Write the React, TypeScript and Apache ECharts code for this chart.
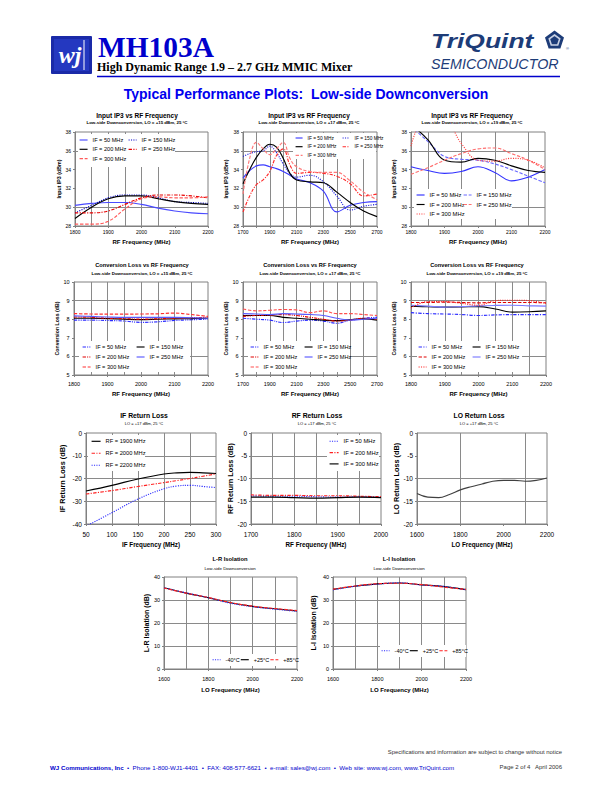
import React, { useEffect, useRef } from "react";
import * as echarts from "echarts";

const FONT = '"Liberation Sans", Arial, Helvetica, sans-serif';
const SERIF = '"Liberation Serif", "Times New Roman", serif';

// ---------------- DATA ----------------
// Row 1 : Input IP3 vs RF Frequency
const ipAFreq = [1800, 1850, 1900, 1950, 2000, 2050, 2100, 2150, 2200];
const ipA50 = [30.2, 30.4, 30.5, 30.5, 30.3, 29.9, 29.6, 29.4, 29.3];
const ipA150 = [29.4, 30.2, 31.0, 31.3, 31.3, 31.0, 30.6, 30.5, 30.4];
const ipA200 = [28.8, 30.0, 30.9, 31.2, 31.2, 30.9, 30.6, 30.4, 30.3];
const ipA250 = [29.4, 29.4, 29.6, 30.3, 31.0, 31.3, 31.3, 31.2, 31.0];
const ipA300 = [28.2, 28.2, 28.5, 29.8, 30.9, 31.1, 31.0, 31.0, 31.1];

const ipBFreq = [1700, 1750, 1800, 1850, 1900, 1950, 2000, 2050, 2100, 2200, 2300, 2400, 2500, 2600, 2700];
const ipB50 = [33.1, 33.9, 34.4, 34.5, 34.3, 34.1, 33.8, 33.4, 33.0, 32.6, 31.7, 29.5, 30.2, 30.5, 30.6];
const ipB150 = [35.4, 35.7, 35.9, 36.0, 36.5, 35.8, 34.6, 33.6, 33.2, 33.4, 32.7, 31.2, 29.7, 30.1, 30.3];
const ipB200 = [32.5, 34.0, 35.3, 36.2, 36.7, 36.4, 35.2, 33.6, 32.9, 32.7, 32.6, 31.6, 30.5, 29.6, 29.0];
const ipB250 = [29.5, 31.2, 32.4, 32.9, 33.8, 35.5, 36.2, 34.5, 33.6, 33.7, 33.6, 33.3, 32.5, 31.2, 31.4];
const ipB300 = [31.4, 35.2, 36.9, 36.2, 35.6, 36.2, 36.9, 35.2, 34.3, 33.8, 33.7, 33.7, 32.8, 31.6, 30.8];

const ipCFreq = [1800, 1850, 1900, 1950, 2000, 2050, 2100, 2150, 2200];
const ipC50 = [34.3, 33.9, 33.6, 33.8, 34.3, 33.7, 32.8, 33.2, 34.0];
const ipC150 = [38.6, 37.0, 35.4, 35.1, 35.0, 34.6, 34.0, 33.3, 32.6];
const ipC200 = [38.8, 37.2, 35.0, 34.8, 35.2, 35.0, 34.4, 33.9, 33.7];
const ipC250 = [33.5, 34.2, 35.0, 35.7, 36.2, 36.3, 35.7, 35.0, 34.0];
const ipC300 = [36.5, 39.8, 39.5, 36.8, 35.0, 34.9, 35.2, 35.0, 34.2];

// Row 2 : Conversion Loss vs RF Frequency
const clDFreq = [1800, 1850, 1900, 1950, 2000, 2050, 2100, 2150, 2200];
const clD50 = [7.95, 7.95, 7.93, 7.9, 7.83, 7.86, 7.93, 7.97, 8.0];
const clD150 = [8.05, 8.05, 8.03, 8.0, 7.98, 8.0, 8.02, 8.03, 8.05];
const clD200 = [8.12, 8.1, 8.05, 8.03, 8.0, 8.02, 8.05, 8.08, 8.1];
const clD250 = [8.18, 8.15, 8.12, 8.1, 8.1, 8.1, 8.1, 8.08, 8.05];
const clD300 = [8.3, 8.28, 8.27, 8.27, 8.28, 8.29, 8.33, 8.25, 8.15];

const clEFreq = [1700, 1800, 1900, 2000, 2100, 2200, 2300, 2400, 2500, 2600, 2700];
const clE50 = [8.05, 8.0, 7.95, 7.82, 7.9, 7.95, 7.9, 7.78, 7.95, 8.05, 8.1];
const clE150 = [8.2, 8.2, 8.2, 8.1, 8.05, 8.0, 7.95, 7.92, 7.98, 8.02, 7.95];
const clE200 = [8.15, 8.2, 8.22, 8.25, 8.2, 8.1, 8.0, 7.9, 7.95, 8.05, 8.0];
const clE250 = [8.3, 8.28, 8.25, 8.3, 8.28, 8.25, 8.2, 8.05, 7.95, 8.0, 8.05];
const clE300 = [8.55, 8.45, 8.48, 8.52, 8.5, 8.35, 8.45, 8.3, 8.3, 8.25, 8.2];

const clFFreq = [1800, 1850, 1900, 1950, 2000, 2050, 2100, 2150, 2200];
const clF50 = [8.35, 8.3, 8.28, 8.25, 8.2, 8.23, 8.25, 8.25, 8.25];
const clF150 = [8.7, 8.67, 8.65, 8.66, 8.68, 8.55, 8.38, 8.4, 8.45];
const clF200 = [8.9, 8.9, 8.92, 8.9, 8.88, 8.9, 8.9, 8.9, 8.88];
const clF250 = [8.75, 8.7, 8.65, 8.68, 8.72, 8.74, 8.75, 8.72, 8.7];
const clF300 = [8.6, 8.95, 8.95, 8.85, 8.75, 9.0, 9.02, 9.0, 8.85];

// Row 3 : Return losses
const ifRlFreq = [50, 100, 150, 200, 225, 250, 275, 300];
const ifRl1900 = [-25.5, -23.0, -20.2, -18.0, -17.5, -17.3, -17.5, -17.8];
const ifRl2000 = [-26.8, -25.3, -23.5, -21.8, -20.9, -20.0, -19.0, -18.0];
const ifRl2200 = [-41.0, -35.0, -29.0, -24.5, -23.3, -23.0, -23.5, -24.0];

const rfRlFreq = [1700, 1750, 1800, 1850, 1900, 1950, 2000];
const rfRl50 = [-13.8, -13.9, -13.9, -14.0, -14.1, -14.0, -14.1];
const rfRl200 = [-13.6, -13.7, -13.7, -13.8, -13.8, -13.9, -14.0];
const rfRl300 = [-14.1, -14.1, -14.2, -14.3, -14.2, -14.1, -14.2];

const loRlFreq = [1600, 1650, 1700, 1750, 1800, 1850, 1900, 1950, 2000, 2050, 2100, 2150, 2200];
const loRl = [-13.3, -14.1, -14.2, -13.5, -12.5, -11.8, -11.2, -10.6, -10.4, -10.4, -10.6, -10.4, -9.9];

// Row 4 : Isolation
const isoFreq = [1600, 1700, 1800, 1900, 2000, 2100, 2200];
const lrM40 = [35.3, 33.1, 31.0, 28.6, 27.1, 26.0, 25.1];
const lrP25 = [35.3, 33.0, 31.0, 28.8, 27.2, 26.2, 25.2];
const lrP85 = [35.2, 33.0, 31.1, 28.9, 27.3, 26.3, 25.4];
const liM40 = [34.4, 36.0, 36.9, 37.5, 36.5, 35.9, 34.4];
const liP25 = [34.6, 36.0, 37.0, 37.4, 36.6, 35.8, 34.5];
const liP85 = [34.7, 36.1, 37.1, 37.3, 36.7, 35.6, 34.6];

// ---------------- STYLES ----------------
const SOLID = "solid";
const DOT = [1.1, 1.3];
const DASH = [3.4, 1.7];
const DASHDOT = [3.4, 1.4, 1.1, 1.4];
const DASHDOTDOT = [3.4, 1.1, 1.1, 1.1, 1.1, 1.1];
const LW = 1.15;

type SeriesSpec = { label: string; values: number[]; color: string; dash: any };
type LegendCol = { left: number; top: number; labels: string[]; orient?: string };
type ChartSpec = {
  key: string; title: string; sub: string; subBold: boolean;
  cx: number; ty: number; sy: number; tSize: number; sSize: number;
  grid: number[];
  xMin: number; xMax: number; xInt: number; xStep: number; xName: string; xNameGap: number; xNameSize: number; xLabSize: number; xLabMargin: number;
  yMin: number; yMax: number; yInt: number; yName: string; yNameGap: number; yNameSize: number; yLabSize: number; yLabMargin: number;
  xs: number[]; series: SeriesSpec[]; hGrid: number[]; vGrid: number[];
  legends: LegendCol[]; lf: number; iw: number; ih: number; ig: number; box?: number[];
};

const rng = (a: number, b: number, s: number) => { const r: number[] = []; for (let v = a; v <= b; v += s) r.push(v); return r; };

const IP_SUB15 = "Low-side Downconversion, LO = +15 dBm, 25 °C";
const IP_SUB17 = "Low-side Downconversion, LO = +17 dBm, 25 °C";
const IP_SUB19 = "Low-side Downconversion, LO = +19 dBm, 25 °C";

const row1 = { ty: 115, sy: 122.5, tSize: 6.5, sSize: 4.4, subBold: true, xName: "RF Frequency (MHz)", xNameGap: 12.5, xNameSize: 6, xLabSize: 5, xLabMargin: 3,
  yMin: 28, yMax: 38, yInt: 2, yName: "Input IP3 (dBm)", yNameSize: 5.3, yLabSize: 5, yLabMargin: 4, hGrid: [30, 36] };
const row2 = { ty: 265.3, sy: 273.7, tSize: 5.7, sSize: 4.4, subBold: true, xName: "RF Frequency (MHz)", xNameGap: 16, xNameSize: 6, xLabSize: 5.5, xLabMargin: 6,
  yMin: 5, yMax: 10, yInt: 1, yName: "Conversion Loss (dB)", yNameSize: 5.2, yLabSize: 5.5, yLabMargin: 4.5, hGrid: [6, 9], lf: 5.6, iw: 8, ih: 7, ig: 3 };

const charts: ChartSpec[] = [
  { key: "A", title: "Input IP3 vs RF Frequency", sub: IP_SUB15, cx: 137, ...row1, grid: [75, 132, 133, 94],
    xMin: 1800, xMax: 2200, xInt: 100, xStep: 100, yNameGap: 12, xs: ipAFreq,
    series: [
      { label: "IF = 50 MHz", values: ipA50, color: "#4a4aff", dash: SOLID },
      { label: "IF = 150 MHz", values: ipA150, color: "#0000c8", dash: DOT },
      { label: "IF = 200 MHz", values: ipA200, color: "#000000", dash: SOLID },
      { label: "IF = 250 MHz", values: ipA250, color: "#e80000", dash: DASHDOT },
      { label: "IF = 300 MHz", values: ipA300, color: "#ff5a5a", dash: DASH },
    ],
    vGrid: [1850, 1900, 1950, 2000, 2050],
    legends: [{ left: 79, top: 136.5, labels: ["IF = 50 MHz", "IF = 200 MHz", "IF = 300 MHz"] }, { left: 128, top: 136.5, labels: ["IF = 150 MHz", "IF = 250 MHz"] }],
    lf: 5.6, iw: 8, ih: 7, ig: 2.3, box: [78, 134, 97, 33] },
  { key: "B", title: "Input IP3 vs RF Frequency", sub: IP_SUB17, cx: 309, ...row1, grid: [243, 132, 134, 94],
    xMin: 1700, xMax: 2700, xInt: 100, xStep: 200, yNameGap: 15, xs: ipBFreq,
    series: [
      { label: "IF = 50 MHz", values: ipB50, color: "#3c3cff", dash: SOLID },
      { label: "IF = 150 MHz", values: ipB150, color: "#2020e0", dash: DOT },
      { label: "IF = 200 MHz", values: ipB200, color: "#000000", dash: SOLID },
      { label: "IF = 250 MHz", values: ipB250, color: "#ff2a2a", dash: DASHDOT },
      { label: "IF = 300 MHz", values: ipB300, color: "#ff7a7a", dash: DASH },
    ],
    vGrid: rng(1800, 2600, 100),
    legends: [{ left: 295, top: 135, labels: ["IF = 50 MHz", "IF = 200 MHz", "IF = 300 MHz"] }, { left: 342, top: 135, labels: ["IF = 150 MHz", "IF = 250 MHz"] }],
    lf: 4.8, iw: 7, ih: 6, ig: 2.7, box: [293, 133, 83, 26] },
  { key: "C", title: "Input IP3 vs RF Frequency", sub: IP_SUB19, cx: 472, ...row1, grid: [411, 132, 134, 94],
    xMin: 1800, xMax: 2200, xInt: 100, xStep: 100, yNameGap: 15, xs: ipCFreq,
    series: [
      { label: "IF = 50 MHz", values: ipC50, color: "#3030ff", dash: SOLID },
      { label: "IF = 150 MHz", values: ipC150, color: "#6a6aff", dash: DASH },
      { label: "IF = 200 MHz", values: ipC200, color: "#000000", dash: SOLID },
      { label: "IF = 250 MHz", values: ipC250, color: "#ff7070", dash: DASH },
      { label: "IF = 300 MHz", values: ipC300, color: "#ff4040", dash: DOT },
    ],
    vGrid: [1850, 1950, 2050, 2150],
    legends: [{ left: 416, top: 191.5, labels: ["IF = 50 MHz", "IF = 200 MHz", "IF = 300 MHz"] }, { left: 463, top: 191.5, labels: ["IF = 150 MHz", "IF = 250 MHz"] }],
    lf: 5.8, iw: 8, ih: 7, ig: 2.5, box: [414, 189, 98, 30] },
  { key: "D", title: "Conversion Loss vs RF Frequency", sub: IP_SUB15, cx: 142, ...row2, grid: [74, 282, 134, 93],
    xMin: 1800, xMax: 2200, xInt: 100, xStep: 100, yNameGap: 14, xs: clDFreq,
    series: [
      { label: "IF = 50 MHz", values: clD50, color: "#2a2aff", dash: DASHDOTDOT },
      { label: "IF = 150 MHz", values: clD150, color: "#000000", dash: SOLID },
      { label: "IF = 200 MHz", values: clD200, color: "#e00000", dash: DASHDOTDOT },
      { label: "IF = 250 MHz", values: clD250, color: "#5a5aff", dash: SOLID },
      { label: "IF = 300 MHz", values: clD300, color: "#ff3030", dash: DASH },
    ],
    vGrid: rng(1850, 2150, 50),
    legends: [{ left: 82, top: 343.5, labels: ["IF = 50 MHz", "IF = 200 MHz", "IF = 300 MHz"] }, { left: 136, top: 343.5, labels: ["IF = 150 MHz", "IF = 250 MHz"] }],
    box: [79, 341, 111, 31] },
  { key: "E", title: "Conversion Loss vs RF Frequency", sub: IP_SUB17, cx: 310, ...row2, grid: [243, 282, 134, 93],
    xMin: 1700, xMax: 2700, xInt: 100, xStep: 200, yNameGap: 15, xs: clEFreq,
    series: [
      { label: "IF = 50 MHz", values: clE50, color: "#2a2aff", dash: DASHDOTDOT },
      { label: "IF = 150 MHz", values: clE150, color: "#000000", dash: SOLID },
      { label: "IF = 200 MHz", values: clE200, color: "#e00000", dash: DASHDOTDOT },
      { label: "IF = 250 MHz", values: clE250, color: "#5a5aff", dash: SOLID },
      { label: "IF = 300 MHz", values: clE300, color: "#ff5050", dash: DASH },
    ],
    vGrid: rng(1800, 2600, 100),
    legends: [{ left: 250, top: 343.5, labels: ["IF = 50 MHz", "IF = 200 MHz", "IF = 300 MHz"] }, { left: 304, top: 343.5, labels: ["IF = 150 MHz", "IF = 250 MHz"] }],
    box: [248, 341, 102, 31] },
  { key: "F", title: "Conversion Loss vs RF Frequency", sub: IP_SUB19, cx: 477, ...row2, grid: [411, 282, 135, 93],
    xMin: 1800, xMax: 2200, xInt: 100, xStep: 100, yNameGap: 15, xs: clFFreq,
    series: [
      { label: "IF = 50 MHz", values: clF50, color: "#2a2aff", dash: DASHDOT },
      { label: "IF = 150 MHz", values: clF150, color: "#000000", dash: SOLID },
      { label: "IF = 200 MHz", values: clF200, color: "#e00000", dash: DASH },
      { label: "IF = 250 MHz", values: clF250, color: "#7a7aff", dash: SOLID },
      { label: "IF = 300 MHz", values: clF300, color: "#ff2020", dash: DOT },
    ],
    vGrid: rng(1850, 2150, 50),
    legends: [{ left: 418, top: 343.5, labels: ["IF = 50 MHz", "IF = 200 MHz", "IF = 300 MHz"] }, { left: 472, top: 343.5, labels: ["IF = 150 MHz", "IF = 250 MHz"] }],
    box: [417, 341, 105, 31] },
  { key: "G", title: "IF Return Loss", sub: "LO = +17 dBm, 25 °C", subBold: false, cx: 144, ty: 415.3, sy: 423, tSize: 6.8, sSize: 4,
    grid: [86, 433, 130, 91], xMin: 50, xMax: 300, xInt: 50, xStep: 50, xName: "IF Frequency (MHz)", xNameGap: 17, xNameSize: 6.3, xLabSize: 6.5, xLabMargin: 7,
    yMin: -40, yMax: 0, yInt: 10, yName: "IF Return Loss (dB)", yNameGap: 20, yNameSize: 7.3, yLabSize: 6.5, yLabMargin: 4, xs: ifRlFreq,
    series: [
      { label: "RF = 1900 MHz", values: ifRl1900, color: "#000000", dash: SOLID },
      { label: "RF = 2000 MHz", values: ifRl2000, color: "#ff2020", dash: DASHDOT },
      { label: "RF = 2200 MHz", values: ifRl2200, color: "#2a2aff", dash: DOT },
    ],
    hGrid: [-10, -20, -30], vGrid: [100, 150, 200, 250],
    legends: [{ left: 91, top: 437.8, labels: ["RF = 1900 MHz", "RF = 2000 MHz", "RF = 2200 MHz"] }],
    lf: 5.7, iw: 9, ih: 7, ig: 5, box: [88, 435, 57, 36] },
  { key: "H", title: "RF Return Loss", sub: "LO = +17 dBm, 25 °C", subBold: false, cx: 317, ty: 415.3, sy: 423, tSize: 6.8, sSize: 4,
    grid: [251, 433, 130, 91], xMin: 1700, xMax: 2000, xInt: 100, xStep: 100, xName: "RF Frequency (MHz)", xNameGap: 17, xNameSize: 6.3, xLabSize: 6.5, xLabMargin: 7,
    yMin: -20, yMax: 0, yInt: 5, yName: "RF Return Loss (dB)", yNameGap: 16, yNameSize: 7.3, yLabSize: 6.5, yLabMargin: 4, xs: rfRlFreq,
    series: [
      { label: "IF = 50 MHz", values: rfRl50, color: "#2a2aff", dash: DOT },
      { label: "IF = 200 MHz", values: rfRl200, color: "#ff2020", dash: DASHDOT },
      { label: "IF = 300 MHz", values: rfRl300, color: "#000000", dash: SOLID },
    ],
    hGrid: [-5, -10, -15], vGrid: [1750, 1800, 1850, 1900, 1950],
    legends: [{ left: 329, top: 437.8, labels: ["IF = 50 MHz", "IF = 200 MHz", "IF = 300 MHz"] }],
    lf: 5.8, iw: 9, ih: 7, ig: 4.3, box: [327, 435, 52, 36] },
  { key: "I", title: "LO Return Loss", sub: "LO = +17 dBm, 25 °C", subBold: false, cx: 479, ty: 415.3, sy: 423, tSize: 6.8, sSize: 4,
    grid: [417, 433, 130, 91], xMin: 1600, xMax: 2200, xInt: 200, xStep: 200, xName: "LO Frequency (MHz)", xNameGap: 17, xNameSize: 6.3, xLabSize: 6.5, xLabMargin: 7,
    yMin: -20, yMax: 0, yInt: 5, yName: "LO Return Loss (dB)", yNameGap: 16, yNameSize: 7.3, yLabSize: 6.5, yLabMargin: 4, xs: loRlFreq,
    series: [{ label: "LO Return Loss", values: loRl, color: "#404040", dash: SOLID }],
    hGrid: [-10, -15], vGrid: [1800, 2100], legends: [], lf: 5.8, iw: 9, ih: 7, ig: 4 },
  { key: "J", title: "L-R Isolation", sub: "Low-side Downconversion", subBold: false, cx: 230, ty: 559, sy: 568, tSize: 5.8, sSize: 4.4,
    grid: [164, 577, 133, 92], xMin: 1600, xMax: 2200, xInt: 200, xStep: 200, xName: "LO Frequency (MHz)", xNameGap: 17.5, xNameSize: 6, xLabSize: 5.5, xLabMargin: 7,
    yMin: 0, yMax: 40, yInt: 10, yName: "L-R Isolation (dB)", yNameGap: 13, yNameSize: 7, yLabSize: 5.5, yLabMargin: 4, xs: isoFreq,
    series: [
      { label: "+25°C", values: lrP25, color: "#000000", dash: SOLID },
      { label: "-40°C", values: lrM40, color: "#2a2aff", dash: DOT },
      { label: "+85°C", values: lrP85, color: "#ff2020", dash: DASH },
    ],
    hGrid: [10, 20, 30], vGrid: [1700, 1800, 1900, 2000, 2100],
    legends: [{ left: 212, top: 656.2, labels: ["-40°C", "+25°C", "+85°C"], orient: "horizontal" }],
    lf: 5.5, iw: 8, ih: 7, ig: 0.5, box: [210, 654, 86, 12] },
  { key: "K", title: "L-I Isolation", sub: "Low-side Downconversion", subBold: false, cx: 399, ty: 559, sy: 568, tSize: 5.8, sSize: 4.4,
    grid: [333, 577, 133, 92], xMin: 1600, xMax: 2200, xInt: 200, xStep: 200, xName: "LO Frequency (MHz)", xNameGap: 17.5, xNameSize: 6, xLabSize: 5.5, xLabMargin: 7,
    yMin: 0, yMax: 40, yInt: 10, yName: "L-I Isolation (dB)", yNameGap: 16, yNameSize: 7, yLabSize: 5.5, yLabMargin: 4, xs: isoFreq,
    series: [
      { label: "+25°C", values: liP25, color: "#000000", dash: SOLID },
      { label: "-40°C", values: liM40, color: "#2a2aff", dash: DOT },
      { label: "+85°C", values: liP85, color: "#ff2020", dash: DASH },
    ],
    hGrid: [10, 20, 30], vGrid: [1700, 1800, 1900, 2000, 2100],
    legends: [{ left: 381, top: 647.2, labels: ["-40°C", "+25°C", "+85°C"], orient: "horizontal" }],
    lf: 5.5, iw: 8, ih: 7, ig: 0.5, box: [380, 645, 86, 12] },
];

const AXIS_C = "#808080";
const GRID_C = "#8a8a8a";

function txt(x: number, y: number, text: string, font: string, fill: string, align = "left", extra: any = {}) {
  return { type: "text", x, y, silent: true, ...extra, style: { text, font, fill, align, verticalAlign: "middle" } };
}

function buildOption() {
  const grid: any[] = [], xAxis: any[] = [], yAxis: any[] = [], series: any[] = [], legend: any[] = [], elements: any[] = [];

  charts.forEach((c, i) => {
    grid.push({ left: c.grid[0], top: c.grid[1], width: c.grid[2], height: c.grid[3], show: true,
      borderColor: AXIS_C, borderWidth: 1, backgroundColor: "rgba(0,0,0,0)", containLabel: false, outerBoundsMode: "none" });
    xAxis.push({ type: "value", gridIndex: i, min: c.xMin, max: c.xMax, interval: c.xInt,
      axisLine: { show: true, onZero: false, lineStyle: { color: AXIS_C, width: 1 } },
      axisTick: { show: true, length: 2, lineStyle: { color: AXIS_C } },
      splitLine: { show: false },
      axisLabel: { fontSize: c.xLabSize, fontFamily: FONT, color: "#000", margin: c.xLabMargin,
        formatter: (v: number) => ((v - c.xMin) % c.xStep === 0 ? String(v) : "") },
      name: c.xName, nameLocation: "middle", nameGap: c.xNameGap,
      nameTextStyle: { fontSize: c.xNameSize, fontWeight: "bold", fontFamily: FONT, color: "#000" } });
    yAxis.push({ type: "value", gridIndex: i, min: c.yMin, max: c.yMax, interval: c.yInt,
      axisLine: { show: true, onZero: false, lineStyle: { color: AXIS_C, width: 1 } },
      axisTick: { show: true, length: 2, lineStyle: { color: AXIS_C } },
      splitLine: { show: false },
      axisLabel: { fontSize: c.yLabSize, fontFamily: FONT, color: "#000", margin: c.yLabMargin },
      name: c.yName, nameLocation: "middle", nameGap: c.yNameGap, nameRotate: 90,
      nameTextStyle: { fontSize: c.yNameSize, fontWeight: "bold", fontFamily: FONT, color: "#000" } });

    c.series.forEach((s, k) => {
      const item: any = {
        type: "line", name: `${c.key}|${s.label}`, xAxisIndex: i, yAxisIndex: i,
        data: c.xs.map((x, j) => [x, s.values[j]]), symbol: "none", smooth: 0.4, clip: true, silent: true, z: 2,
        lineStyle: { color: s.color, width: LW, type: s.dash }, itemStyle: { color: s.color },
      };
      if (k === 0) {
        item.markLine = {
          silent: true, symbol: ["none", "none"], z: 1, animation: false, label: { show: false },
          lineStyle: { color: GRID_C, width: 1, type: "solid" },
          emphasis: { disabled: true },
          data: [...c.hGrid.map((v) => ({ yAxis: v })), ...c.vGrid.map((v) => ({ xAxis: v }))],
        };
      }
      series.push(item);
    });

    c.legends.forEach((col) => {
      legend.push({
        orient: col.orient || "vertical", left: col.left, top: col.top, padding: 0,
        itemWidth: c.iw, itemHeight: c.ih, itemGap: c.ig, selectedMode: false, z: 5,
        data: col.labels.map((l) => `${c.key}|${l}`),
        formatter: (n: string) => n.split("|")[1],
        textStyle: { fontSize: c.lf, fontFamily: FONT, color: "#000", lineHeight: c.ih },
        lineStyle: { width: LW },
        itemStyle: { opacity: 0, borderWidth: 0 },
      });
    });

    if (c.box) {
      elements.push({ type: "rect", z: 3, silent: true, shape: { x: c.box[0], y: c.box[1], width: c.box[2], height: c.box[3] }, style: { fill: "#ffffff" } });
    }
    elements.push(txt(c.cx, c.ty, c.title, `bold ${c.tSize}px ${FONT}`, "#000", "center"));
    elements.push(txt(c.cx, c.sy, c.sub, `${c.subBold ? "bold " : ""}${c.sSize}px ${FONT}`, "#000", "center"));
  });

  // Header
  const NAVY = "#1d3c78";
  elements.push({ type: "rect", silent: true, shape: { x: 51, y: 36, width: 41, height: 38, r: 1 }, style: { fill: "#1a2aa8" } });
  elements.push({ type: "rect", silent: true, shape: { x: 54, y: 39, width: 35, height: 32 }, style: { fill: "#2438c0" } });
  elements.push({ type: "line", silent: true, shape: { x1: 84, y1: 40, x2: 84, y2: 70 }, style: { stroke: "#ffffff", lineWidth: 1 } });
  elements.push(txt(70, 55, "wj", `italic bold 24px ${SERIF}`, "#ffffff", "center"));
  elements.push(txt(98, 46.5, "MH103A", `bold 29.4px ${SERIF}`, "#0000cc"));
  elements.push(txt(97, 67, "High Dynamic Range 1.9 – 2.7 GHz MMIC Mixer", `bold 12px ${SERIF}`, "#000000"));
  elements.push({ type: "line", silent: true, shape: { x1: 97, y1: 76.5, x2: 560, y2: 76.5 }, style: { stroke: "#0000cc", lineWidth: 1.5 } });
  elements.push(txt(431, 41, "TriQuint", `italic bold 21px ${FONT}`, NAVY, "left", { scaleX: 1.26 }));
  elements.push(txt(431, 63.5, "SEMICONDUCTOR", `italic 14.3px ${FONT}`, NAVY));
  const pc = [554.5, 40.5], pr = 10;
  const pent = (r: number) => [0, 1, 2, 3, 4].map((k) => {
    const a = -Math.PI / 2 + (k * 2 * Math.PI) / 5;
    return [pc[0] + r * Math.cos(a), pc[1] + r * Math.sin(a)];
  });
  elements.push({ type: "polygon", silent: true, shape: { points: pent(pr) }, style: { fill: NAVY } });
  elements.push({ type: "polygon", silent: true, shape: { points: pent(pr * 0.55) }, style: { fill: "none", stroke: "#c9d2e4", lineWidth: 1.6 } });
  elements.push(txt(566, 48, "®", `4px ${FONT}`, NAVY));
  elements.push(txt(306, 94, "Typical Performance Plots:  Low-side Downconversion", `bold 14px ${FONT}`, "#0000ee", "center"));

  // Footer
  elements.push(txt(562, 752, "Specifications and information are subject to change without notice", `5.9px ${FONT}`, "#333333", "right"));
  elements.push({ type: "text", x: 50, y: 767, silent: true, style: {
    text: "{b|WJ Communications, Inc}  •  Phone 1-800-WJ1-4401  •  FAX: 408-577-6621  •  e-mail: sales@wj.com  •  Web site: www.wj.com, www.TriQuint.com",
    font: `6.2px ${FONT}`, fill: "#0000cc", verticalAlign: "middle", align: "left",
    rich: { b: { fontWeight: "bold", fontSize: 6.2, fontFamily: FONT, fill: "#0000cc" } } } });
  elements.push(txt(562, 767, "Page 2 of 4   April 2006", `6px ${FONT}`, "#333333", "right"));

  return {
    animation: false,
    backgroundColor: "#ffffff",
    textStyle: { fontFamily: FONT },
    grid, xAxis, yAxis, series, legend,
    graphic: { elements },
  };
}

export default function App() {
  const ref = useRef<HTMLDivElement>(null);
  useEffect(() => {
    if (!ref.current) return;
    const chart = echarts.init(ref.current, undefined, { renderer: "svg", width: 612, height: 792 });
    chart.setOption(buildOption() as any);
    return () => chart.dispose();
  }, []);
  return <div ref={ref} style={{ position: "absolute", left: 0, top: 0, width: 612, height: 792, background: "#fff" }} />;
}
